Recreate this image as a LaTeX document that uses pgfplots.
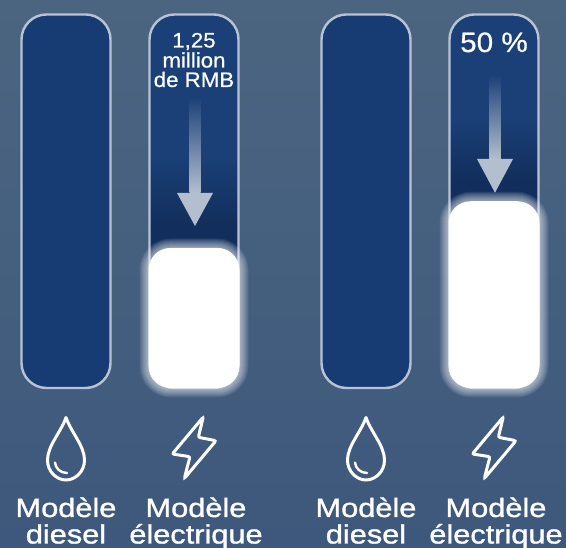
\documentclass[border=0pt]{standalone}
\usepackage{fontspec}
\usepackage{pgfplots}
\pgfplotsset{compat=1.18}
\setmainfont{Liberation Sans}
\newfontfamily\lblfont[FakeStretch=1.16,FakeBold=1.2]{Liberation Sans}
\newfontfamily\valfont[FakeStretch=1.06,FakeBold=0.6]{Liberation Sans}

\definecolor{bgtop}{RGB}{75,101,128}
\definecolor{bgbot}{RGB}{62,88,125}
\definecolor{bartop}{RGB}{26,64,119}
\definecolor{bardark}{RGB}{18,46,92}
\definecolor{barblue}{RGB}{22,60,115}
\definecolor{edge}{RGB}{184,196,212}
\definecolor{arrowc}{RGB}{179,191,207}

\pgfdeclareverticalshading{elecL}{100bp}{color(0bp)=(bardark); color(46.9bp)=(bardark); color(56bp)=(bartop); color(100bp)=(bartop)}
\pgfdeclareverticalshading{elecR}{100bp}{color(0bp)=(bardark); color(52.9bp)=(bardark); color(61bp)=(bartop); color(100bp)=(bartop)}

\tikzset{px/.style={x=1pt,y=-1pt,shift={(0pt,548pt)}}}

\newcommand{\drop}[1]{%
  \draw[white,line width=3pt,line join=round] (#1,417.5)
    .. controls (#1-5,432) and (#1-18.5,446) .. (#1-18.5,460)
    .. controls (#1-18.5,472) and (#1-9,480) .. (#1,480)
    .. controls (#1+9,480) and (#1+18.5,472) .. (#1+18.5,460)
    .. controls (#1+18.5,446) and (#1+5,432) .. cycle;
  \draw[white,line width=2.4pt,line cap=round] (#1-11,462.5)
    .. controls (#1-10.5,468) and (#1-6,473) .. (#1+1,473);
}
\newcommand{\bolt}[1]{%
  \draw[white,line width=3pt,rounded corners=2pt] (#1+9.3,417)
    -- (#1-21.7,454) -- (#1-4,456.7) -- (#1-9.7,478.5)
    -- (#1+22,440.7) -- (#1+4.3,437.3) -- cycle;
}

\begin{document}
\begin{tikzpicture}
\useasboundingbox (0,0) rectangle (566pt,548pt);
\fill[top color=bgtop,bottom color=bgbot] (0,0) rectangle (566pt,548pt);

\begin{axis}[
    scale only axis,
    width=566pt, height=548pt,
    xmin=0, xmax=566,
    ymin=-42.84, ymax=103.88,
    hide axis,
    clip=false,
    ybar=0pt,
    bar shift=0pt,
]
% modele diesel, full height
\addplot[bar width=89,fill=barblue,draw=edge,line width=2.4pt,rounded corners=25pt]
    coordinates {(66,100)(366,100)};
% electrique, part that is saved
\addplot[bar width=89,shade,shading=elecL,draw=edge,line width=2.4pt,rounded corners=25pt]
    coordinates {(194,100)};
\addplot[bar width=89,shade,shading=elecR,draw=edge,line width=2.4pt,rounded corners=25pt]
    coordinates {(494,100)};
% glow round the white bars
\pgfplotsinvokeforeach{19,17,15,13,11,9,7,5,3}{
  \addplot[bar width=90,draw=white,draw opacity=0.08,line width=#1pt,rounded corners=22pt,fill=none]
      coordinates {(194,37.5)(494,50)};
}
% electrique, what is left
\addplot[bar width=91,fill=white,draw=none,rounded corners=22pt]
    coordinates {(194,37.5)(494,50)};
\end{axis}

\begin{scope}[px]
  % arrows
  \shade[top color=bartop,bottom color=arrowc] (189.5,97) rectangle (200.5,193);
  \fill[arrowc] (177,193) -- (213,193) -- (195,226) -- cycle;
  \shade[top color=bartop,bottom color=arrowc] (489.7,75) rectangle (500.5,159.5);
  \fill[arrowc] (477,159) -- (513,159) -- (495,192.7) -- cycle;

  \drop{66}\drop{366}
  \bolt{194}\bolt{494}

  \node[white,anchor=base,inner sep=0pt,font=\valfont\fontsize{21}{21}\selectfont] at (194,47.5) {1,25};
  \node[white,anchor=base,inner sep=0pt,font=\valfont\fontsize{21}{21}\selectfont] at (194,67.5) {million};
  \node[white,anchor=base,inner sep=0pt,font=\valfont\fontsize{21}{21}\selectfont] at (194,87) {de RMB};
  \node[white,anchor=base,inner sep=0pt,font=\valfont\fontsize{28}{28}\selectfont] at (494,52) {50 \%};

  \foreach \xa/\xb in {66/196,366/496}{
    \node[white,anchor=base,inner sep=0pt,font=\lblfont\fontsize{26.5}{26.5}\selectfont] at (\xa,517) {Modèle};
    \node[white,anchor=base,inner sep=0pt,font=\lblfont\fontsize{26.5}{26.5}\selectfont] at (\xa,543.5) {diesel};
    \node[white,anchor=base,inner sep=0pt,font=\lblfont\fontsize{26.5}{26.5}\selectfont] at (\xb,517) {Modèle};
    \node[white,anchor=base,inner sep=0pt,font=\lblfont\fontsize{26.5}{26.5}\selectfont] at (\xb,543.5) {électrique};
  }
\end{scope}
\end{tikzpicture}
\end{document}
